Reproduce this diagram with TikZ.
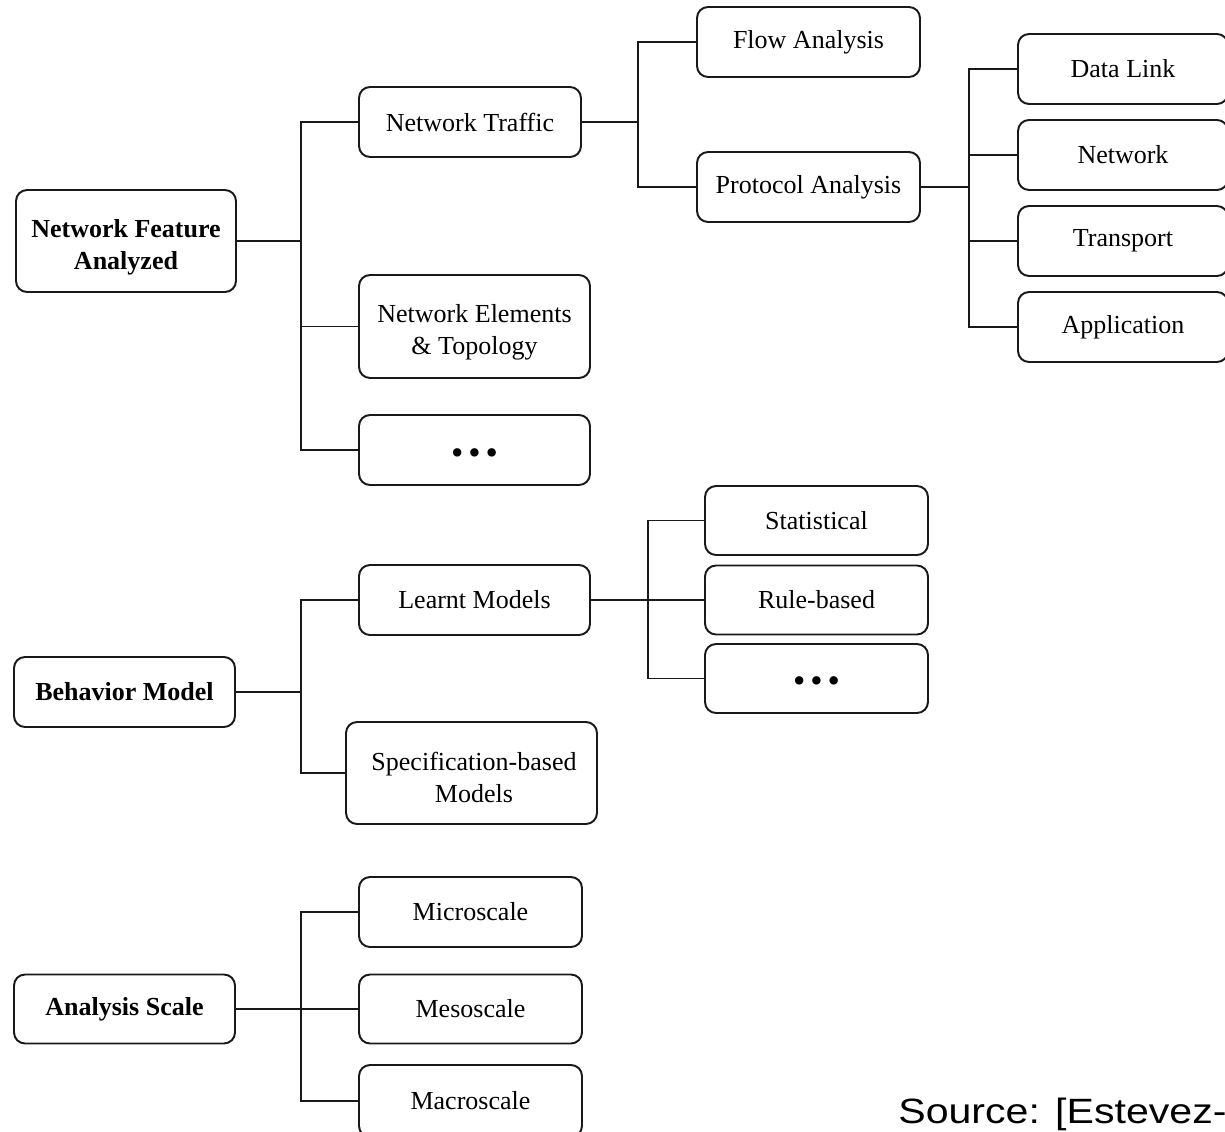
\documentclass[tikz,border=0pt]{standalone}
\usepackage{fontspec}
\usepackage{graphicx}
\setmainfont{Liberation Serif}
\newfontfamily\srcfont{Liberation Sans}
\newcommand{\threedots}{{\fontsize{20}{20}\selectfont\raisebox{-0.4em}[0pt][0pt]{\textbullet\hspace{0.14em}\textbullet\hspace{0.14em}\textbullet}}}
\begin{document}
\begin{tikzpicture}[x=0.02cm, y=-0.02cm,
  box/.style={draw=black!90, rounded corners=0.22cm, line width=1.1pt,
    align=center, inner sep=0pt, fill=white,
    font=\fontsize{14.8}{18.2}\selectfont},
  rootbox/.style={box, font=\fontsize{14.8}{18.2}\selectfont\bfseries},
  twoline/.style={align=center, inner sep=0pt, font=\fontsize{14.8}{18.2}\selectfont},
  link/.style={draw=black!90, line width=1.1pt}
]
\clip (0,0) rectangle (1225,1132);

% ---------- Network Feature Analyzed ----------
\node[rootbox, minimum width=4.40cm, minimum height=2.04cm] (nfa) at (126,241) {};
\node[twoline, font=\fontsize{14.8}{18.2}\selectfont\bfseries] (nfa-text) at (126,247) {Network Feature\\Analyzed};
\node[box, minimum width=4.44cm, minimum height=1.40cm] (traffic) at (470,122) {Network Traffic};
\node[box, minimum width=4.62cm, minimum height=2.06cm] (elements) at (474.5,326.5) {};
\node[twoline] (elements-text) at (474.5,332) {Network Elements\\\& Topology};
\node[box, minimum width=4.62cm, minimum height=1.40cm] (more1) at (474.5,450) {\threedots};

\node[box, minimum width=4.46cm, minimum height=1.40cm] (flow) at (808.5,42) {Flow Analysis};
\node[box, minimum width=4.46cm, minimum height=1.40cm] (proto) at (808.5,187) {Protocol Analysis};

\node[box, minimum width=4.20cm, minimum height=1.40cm] (datalink) at (1123,69) {Data Link};
\node[box, minimum width=4.20cm, minimum height=1.40cm] (network) at (1123,155) {Network};
\node[box, minimum width=4.20cm, minimum height=1.40cm] (transport) at (1123,241) {Transport};
\node[box, minimum width=4.20cm, minimum height=1.40cm] (application) at (1123,327) {Application};

\coordinate (j1) at (301,241);
\coordinate (j2) at (638,122);
\coordinate (j3) at (969,187);

\draw[link] (nfa.east) -- (j1);
\draw[link] (traffic.west) -| (j1);
\draw[link] (elements.west) -| (j1);
\draw[link] (more1.west) -| (j1);

\draw[link] (traffic.east) -- (j2);
\draw[link] (flow.west) -| (j2);
\draw[link] (proto.west) -| (j2);

\draw[link] (proto.east) -- (j3);
\draw[link] (datalink.west) -| (j3);
\draw[link] (network.west) -| (j3);
\draw[link] (transport.west) -| (j3);
\draw[link] (application.west) -| (j3);

% ---------- Behavior Model ----------
\node[rootbox, minimum width=4.42cm, minimum height=1.40cm] (bm) at (124.5,692) {Behavior Model};
\node[box, minimum width=4.62cm, minimum height=1.40cm] (learnt) at (474.5,600) {Learnt Models};
\node[box, minimum width=5.02cm, minimum height=2.04cm] (spec) at (471.5,773) {};
\node[twoline] (spec-text) at (474,777) {Specification-based\\Models};

\node[box, minimum width=4.46cm, minimum height=1.38cm] (stat) at (816.5,520.5) {Statistical};
\node[box, minimum width=4.46cm, minimum height=1.38cm] (rule) at (816.5,600) {Rule-based};
\node[box, minimum width=4.46cm, minimum height=1.38cm] (more2) at (816.5,678.5) {\threedots};

\coordinate (j4) at (301,692);
\coordinate (j5) at (648,600);

\draw[link] (bm.east) -- (j4);
\draw[link] (learnt.west) -| (j4);
\draw[link] (spec.west) -| (j4);

\draw[link] (learnt.east) -- (j5);
\draw[link] (stat.west) -| (j5);
\draw[link] (rule.west) -| (j5);
\draw[link] (more2.west) -| (j5);

% ---------- Analysis Scale ----------
\node[rootbox, minimum width=4.42cm, minimum height=1.38cm] (as) at (124.5,1009) {Analysis Scale};
\node[box, minimum width=4.46cm, minimum height=1.40cm] (micro) at (470.5,912) {Microscale};
\node[box, minimum width=4.46cm, minimum height=1.38cm] (meso) at (470.5,1009) {Mesoscale};
\node[box, minimum width=4.46cm, minimum height=1.44cm] (macro) at (470.5,1101) {Macroscale};

\coordinate (j6) at (301,1009);

\draw[link] (as.east) -- (j6);
\draw[link] (micro.west) -| (j6);
\draw[link] (meso.west) -| (j6);
\draw[link] (macro.west) -| (j6);

% ---------- source line ----------
\node[anchor=base west, inner sep=0pt, font=\srcfont\fontsize{20}{24}\selectfont] (src) at (898,1123) {\scalebox{1.17}[1]{Source: [Estevez-}};
\end{tikzpicture}
\end{document}
